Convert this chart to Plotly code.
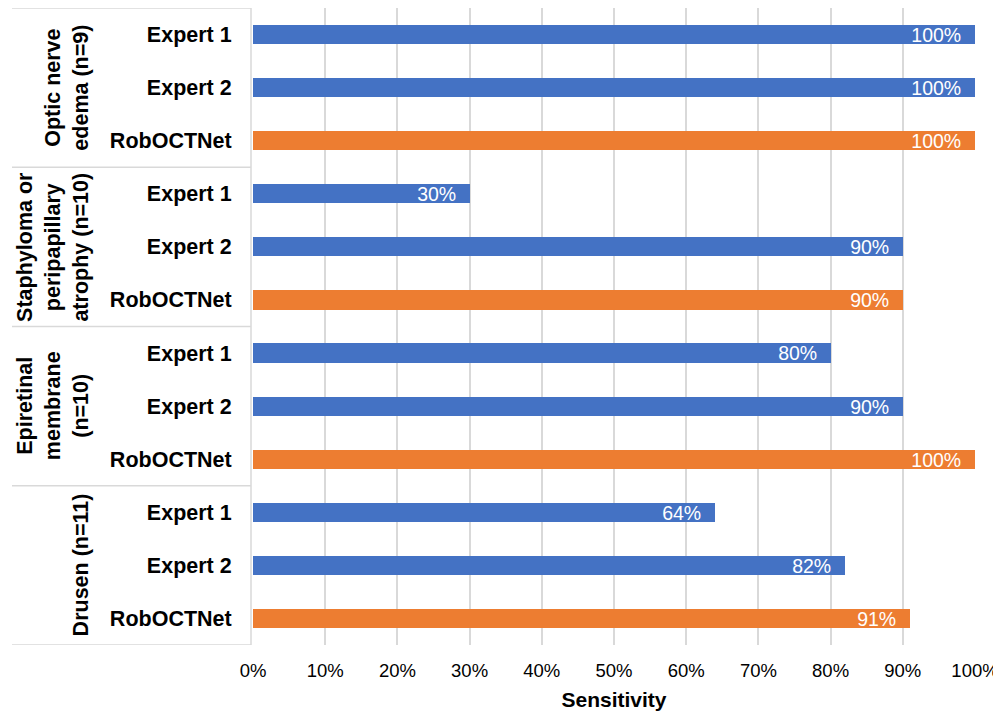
import plotly.graph_objects as go

groups = ["Optic nerve<br>edema (n=9)", "Staphyloma or<br>peripapillary<br>atrophy (n=10)",
          "Epiretinal<br>membrane<br>(n=10)", "Drusen (n=11)"]
raters = ["Expert 1", "Expert 2", "RobOCTNet"]
sensitivity = [
    [100, 100, 100],
    [30, 90, 90],
    [80, 90, 100],
    [64, 82, 91],
]
x_ticks = [0, 10, 20, 30, 40, 50, 60, 70, 80, 90, 100]

BLUE = "#4472C4"
ORANGE = "#ED7D31"
FONT = "Liberation Sans, Arial, sans-serif"
GRID = "#d9d9d9"

fig = go.Figure()

rows_y, rows_x, rows_c, rows_lbl = [], [], [], []
for gi, g in enumerate(groups):
    for ri, r in enumerate(raters):
        idx = gi * 3 + ri
        rows_y.append(idx)
        rows_x.append(sensitivity[gi][ri])
        rows_c.append(ORANGE if r == "RobOCTNet" else BLUE)
        rows_lbl.append(f"<b>{r}</b>")

fig.add_trace(go.Bar(
    x=rows_x, y=rows_y, orientation="h",
    marker=dict(color=rows_c, line=dict(width=0)),
    width=0.36,
    text=[f"{v}%\u00a0\u00a0" for v in rows_x],
    textposition="inside", insidetextanchor="end",
    constraintext="none",
    textfont=dict(family=FONT, size=19.5, color="white"),
    hoverinfo="skip",
))

n_rows = len(rows_y)
fig.update_yaxes(
    range=[n_rows - 0.5, -0.5],
    tickvals=rows_y, ticktext=rows_lbl,
    tickfont=dict(family=FONT, size=21.5, color="black"),
    ticks="outside", ticklen=16, tickcolor="rgba(0,0,0,0)",
    showgrid=False, zeroline=False,
    showline=False,
)
fig.update_xaxes(
    range=[0, 100],
    tickvals=x_ticks, ticktext=[f"{t}%" for t in x_ticks],
    tickfont=dict(family=FONT, size=18.5, color="black"),
    ticks="outside", ticklen=9, tickcolor="rgba(0,0,0,0)",
    showgrid=True, gridcolor=GRID, gridwidth=1.5,
    zeroline=False, showline=False,
    title=dict(text="<b>Sensitivity</b>", font=dict(family=FONT, size=21, color="black"), standoff=12),
)

# page is offset by 8px body margin: figure coords = screen - 8
OFF = 8
FW, FH = 1001 - OFF, 712 - OFF
L, R = 253 - OFF, 975 - OFF
T, B = 8 - OFF, 645 - OFF
W = R - L
def px2paper(px_screen):
    return (px_screen - OFF - L) / W

shapes = []
for k in range(len(groups) + 1):
    yv = k * 3 - 0.5
    shapes.append(dict(type="line", xref="paper", yref="y", x0=px2paper(12), x1=px2paper(251),
                       y0=yv, y1=yv, line=dict(color=GRID, width=1.5)))
shapes.append(dict(type="line", xref="paper", yref="y", x0=px2paper(251), x1=px2paper(251),
                   y0=-0.5, y1=n_rows - 0.5, line=dict(color=GRID, width=1.5)))
fig.update_layout(shapes=shapes)

for gi, g in enumerate(groups):
    fig.add_annotation(
        xref="paper", yref="y", x=px2paper(95), y=gi * 3 + 1,
        text=f"<b>{g}</b>", textangle=-90, showarrow=False,
        xanchor="right", yanchor="middle", align="center",
        font=dict(family=FONT, size=21.5, color="black"),
    )

fig.update_layout(
    width=FW, height=FH,
    margin=dict(l=L, r=FW - R, t=T, b=FH - B, pad=0),
    plot_bgcolor="white", paper_bgcolor="white",
    showlegend=False, bargap=0,
)

fig.write_html("out.html")
